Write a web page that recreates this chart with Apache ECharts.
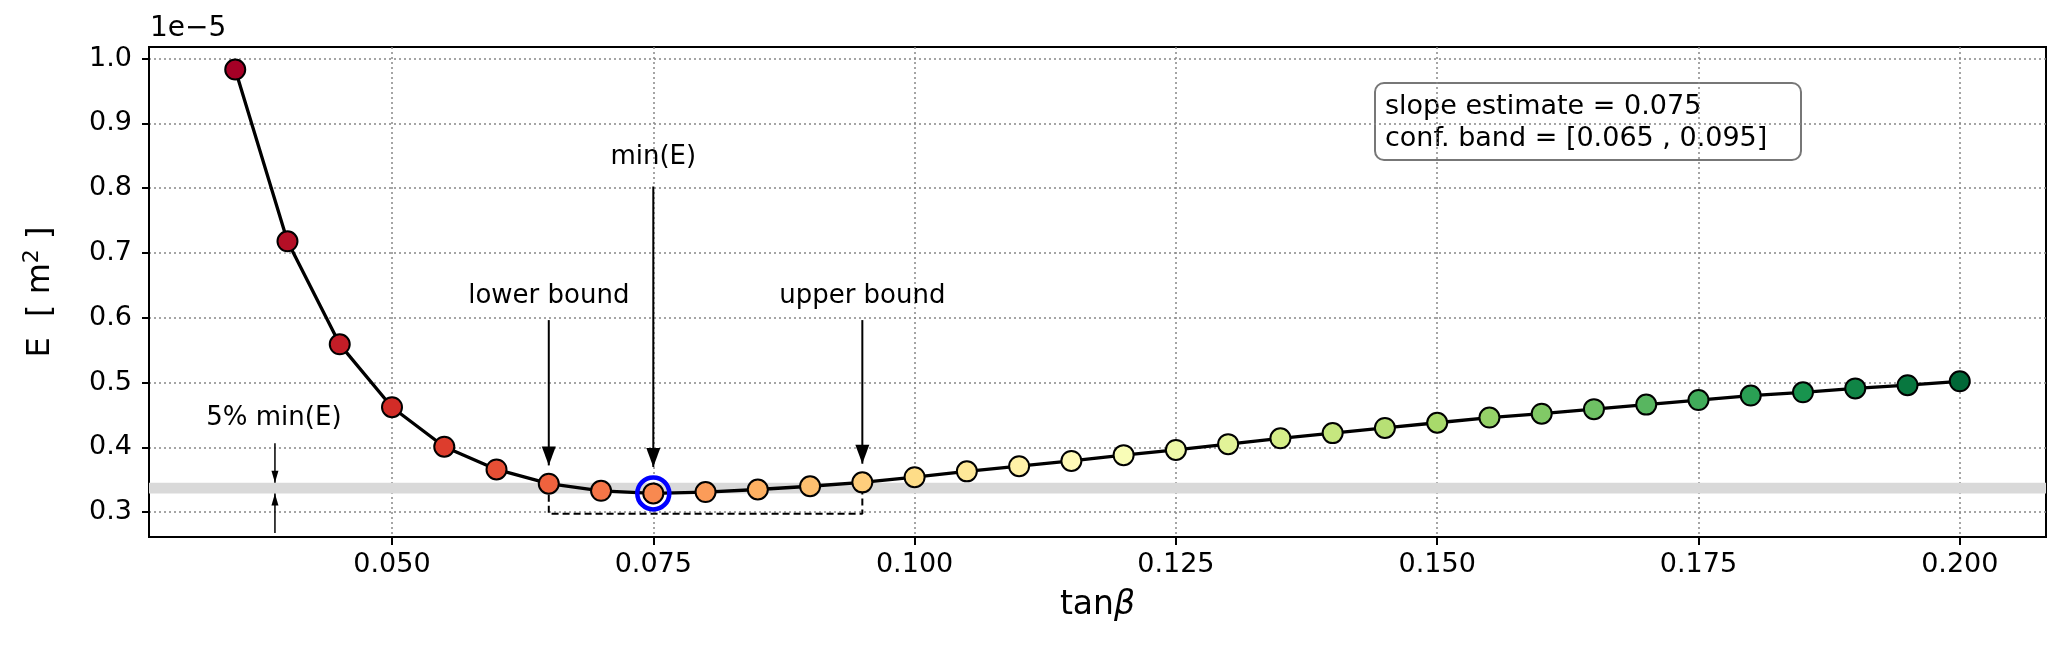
<!DOCTYPE html>
<html><head><meta charset="utf-8">
<script src="https://cdn.jsdelivr.net/npm/echarts@6/dist/echarts.min.js"></script>
<style>html,body{margin:0;padding:0;background:#fff}#c{width:2067px;height:645px}</style>
</head><body><div id="c"></div>
<script>
// ---- data (E in units of 1e-5 m^2) ----
const tanBeta = [0.035, 0.040, 0.045, 0.050, 0.055, 0.060, 0.065, 0.070, 0.075, 0.080,
                 0.085, 0.090, 0.095, 0.100, 0.105, 0.110, 0.115, 0.120, 0.125, 0.130,
                 0.135, 0.140, 0.145, 0.150, 0.155, 0.160, 0.165, 0.170, 0.175, 0.180,
                 0.185, 0.190, 0.195, 0.200];
const energy = [0.983, 0.718, 0.559, 0.462, 0.401, 0.366, 0.344, 0.333, 0.329, 0.331,
                0.335, 0.340, 0.346, 0.354, 0.363, 0.371, 0.379, 0.388, 0.396, 0.405,
                0.414, 0.422, 0.430, 0.438, 0.446, 0.452, 0.459, 0.466, 0.473, 0.480,
                0.485, 0.491, 0.496, 0.502];
const xTicks = [0.050, 0.075, 0.100, 0.125, 0.150, 0.175, 0.200];
const yTicks = [0.3, 0.4, 0.5, 0.6, 0.7, 0.8, 0.9, 1.0];
const xRange = [0.02675, 0.20825];
const yRange = [0.2617, 1.0178];
const slopeEstimate = 0.075;
const confBand = [0.065, 0.095];
const bandFactor = 1.05;
const bracketLevel = 0.2974;
// annotations
const annText = ['min(E)', 'lower bound', 'upper bound', '5% min(E)'];
const annX = [0.075, 0.065, 0.095, 0.0387];
const annY = [0.847, 0.6335, 0.6335, 0.445];
const arrowX = [0.075, 0.065, 0.095];
const arrowFrom = [0.8025, 0.5964, 0.5964];
const arrowTo = [0.3696, 0.3722, 0.3748];
const pctArrowX = 0.0388;
const pctArrowFrom = [0.4062, 0.2678];

// ---- derived ----
const eMin = Math.min(...energy);
const iMin = energy.indexOf(eMin);
const bandLo = eMin, bandHi = eMin * bandFactor;
const iLo = tanBeta.indexOf(confBand[0]), iHi = tanBeta.indexOf(confBand[1]);

// RdYlGn colormap (style)
const rdylgn = ['#a50026','#d73027','#f46d43','#fdae61','#fee08b','#ffffbf','#d9ef8b','#a6d96a','#66bd63','#1a9850','#006837'];
function cmap(t){
  const p = t * (rdylgn.length - 1), i = Math.min(Math.floor(p), rdylgn.length - 2), f = p - i;
  const a = rdylgn[i], b = rdylgn[i+1];
  const c = k => Math.round(parseInt(a.substr(k,2),16)*(1-f) + parseInt(b.substr(k,2),16)*f);
  return 'rgb(' + c(1) + ',' + c(3) + ',' + c(5) + ')';
}
const FONT = 'DejaVu Sans';
const chart = echarts.init(document.getElementById('c'), null, {renderer: 'canvas'});

const mainData = tanBeta.map((x, i) => ({
  value: [x, energy[i]],
  itemStyle: {color: cmap(i / (tanBeta.length - 1))}
}));

const series = [];
// band
series.push({
  type: 'line', data: [], z: 1, silent: true,
  markArea: {silent: true, itemStyle: {color: '#d9d9d9', opacity: 1},
    data: [[{yAxis: bandLo}, {yAxis: bandHi}]]}
});
// dashed bracket
series.push({
  type: 'line', z: 2, symbol: 'none', silent: true,
  lineStyle: {color: '#000', width: 2, type: [7, 4]},
  data: [[confBand[0], energy[iLo]], [confBand[0], bracketLevel], [confBand[1], bracketLevel], [confBand[1], energy[iHi]]]
});
// arrow shafts
arrowX.forEach((x, k) => series.push({
  type: 'line', z: 3, symbol: 'none', silent: true,
  lineStyle: {color: '#000', width: 2},
  data: [[x, arrowFrom[k]], [x, arrowTo[k]]]
}));
series.push({
  type: 'line', z: 3, symbol: 'none', silent: true,
  lineStyle: {color: '#000', width: 1.5},
  data: [[pctArrowX, pctArrowFrom[0]], [pctArrowX, bandHi]]
});
series.push({
  type: 'line', z: 3, symbol: 'none', silent: true,
  lineStyle: {color: '#000', width: 1.5},
  data: [[pctArrowX, pctArrowFrom[1]], [pctArrowX, bandLo]]
});
// arrow heads
series.push({
  type: 'scatter', z: 4, silent: true, symbol: 'triangle', symbolRotate: 180,
  symbolSize: [14, 19], symbolOffset: [0, '-50%'], itemStyle: {color: '#000', opacity: 1},
  data: arrowX.map((x, k) => [x, arrowTo[k]])
});
series.push({
  type: 'scatter', z: 4, silent: true, symbol: 'triangle', symbolRotate: 180,
  symbolSize: [7, 12], symbolOffset: [0, '-50%'], itemStyle: {color: '#000', opacity: 1},
  data: [[pctArrowX, bandHi]]
});
series.push({
  type: 'scatter', z: 4, silent: true, symbol: 'triangle',
  symbolSize: [7, 12], symbolOffset: [0, '50%'], itemStyle: {color: '#000', opacity: 1},
  data: [[pctArrowX, bandLo]]
});
// main curve
series.push({
  type: 'line', z: 6, data: mainData, symbol: 'circle', symbolSize: 20,
  lineStyle: {color: '#000', width: 3.3},
  itemStyle: {borderColor: '#000', borderWidth: 2, opacity: 1},
  emphasis: {disabled: true}
});
// min ring
series.push({
  type: 'scatter', z: 7, silent: true, symbol: 'circle', symbolSize: 32,
  itemStyle: {color: 'rgba(0,0,0,0)', borderColor: '#0000ff', borderWidth: 4.5, opacity: 1},
  data: [[tanBeta[iMin], eMin]]
});
// annotation texts
series.push({
  type: 'scatter', z: 8, silent: true, symbolSize: 0,
  itemStyle: {opacity: 1},
  label: {show: true, position: 'inside', color: '#000', opacity: 1, fontFamily: FONT, fontSize: 26,
    formatter: p => p.name},
  data: annText.map((t, k) => ({name: t, value: [annX[k], annY[k]]}))
});

const boxLines = ['slope estimate = ' + slopeEstimate.toFixed(3),
                  'conf. band = [' + confBand[0].toFixed(3) + ' , ' + confBand[1].toFixed(3) + ']'];

chart.setOption({
  backgroundColor: '#fff',
  animation: false,
  grid: {left: 149, right: 21, top: 47, bottom: 108, show: true, borderColor: '#000', borderWidth: 2, backgroundColor: 'transparent'},
  xAxis: {
    type: 'value', min: xRange[0], max: xRange[1],
    name: '{a|tan}{b|β}', nameLocation: 'middle', nameGap: 52,
    nameTextStyle: {rich: {a: {fontFamily: FONT, fontSize: 33, color: '#000'}, b: {fontFamily: FONT, fontSize: 33, fontStyle: 'italic', color: '#000'}}},
    axisLine: {show: true, lineStyle: {color: '#000', width: 2}},
    axisTick: {show: true, inside: false, length: 8, lineStyle: {color: '#000', width: 2}, customValues: xTicks},
    axisLabel: {show: true, customValues: xTicks, margin: 14, color: '#000', fontFamily: FONT, fontSize: 27, formatter: v => v.toFixed(3)},
    splitLine: {show: true, lineStyle: {color: '#888', width: 1.5, type: [2, 3]}}
  },
  yAxis: {
    type: 'value', min: yRange[0], max: yRange[1],
    name: '{n|E  [ m}{s|2}{n| ]}', nameLocation: 'middle', nameRotate: 90, nameGap: 88,
    nameTextStyle: {rich: {n: {fontFamily: FONT, fontSize: 32, color: '#000', lineHeight: 40}, s: {fontFamily: FONT, fontSize: 22, color: '#000', verticalAlign: 'top', lineHeight: 40}}},
    axisLine: {show: true, lineStyle: {color: '#000', width: 2}},
    axisTick: {show: true, inside: false, length: 7, lineStyle: {color: '#000', width: 2}, customValues: yTicks},
    axisLabel: {show: true, customValues: yTicks, margin: 17, color: '#000', fontFamily: FONT, fontSize: 27, formatter: v => v.toFixed(1)},
    splitLine: {show: true, lineStyle: {color: '#888', width: 1.5, type: [2, 3]}}
  },
  graphic: [
    {type: 'text', left: 150, top: 15, style: {text: '1e\u22125', fontFamily: FONT, fontSize: 28, fill: '#000'}},
    {type: 'group', left: 1374, top: 82, children: [
      {type: 'rect', shape: {x: 0, y: 0, width: 426, height: 77, r: 9}, style: {fill: '#fff', stroke: '#777', lineWidth: 2}},
      {type: 'text', x: 10, y: 8, style: {text: boxLines.join('\n'), fontFamily: FONT, fontSize: 27, lineHeight: 32, fill: '#000'}}
    ]}
  ],
  series: series
});
</script></body></html>
